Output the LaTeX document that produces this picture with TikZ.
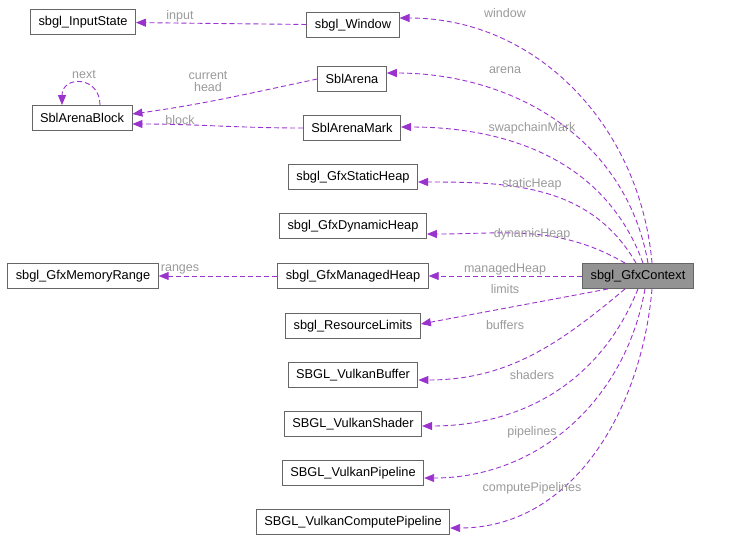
\documentclass[tikz,border=0pt]{standalone}
\usepackage{fontspec}
\setmainfont{Liberation Sans}
\usetikzlibrary{arrows.meta}
\definecolor{edgepurple}{RGB}{154,50,205}
\definecolor{labelgrey}{RGB}{154,154,154}
\definecolor{boxgrey}{RGB}{102,102,102}
\tikzset{%
    class node/.style={draw=boxgrey, fill=white, minimum height=25pt,
        inner xsep=8pt, line width=0.9pt, font=\fontsize{12.8}{14}\selectfont},
    rel/.style={draw=edgepurple, line width=0.9pt, dash pattern=on 5pt off 3pt,
        -{Triangle[length=10pt,width=8pt,fill=edgepurple]}},
    lbl/.style={text=labelgrey, font=\fontsize{12.5}{12}\selectfont, align=center}
}
\begin{document}
\begin{tikzpicture}[x=1pt,y=-1pt]
  \useasboundingbox (0,0) rectangle (730,541);

  \node[class node] (input) at (83,22) {sbgl\_InputState};
  \node[class node] (window) at (353,25) {sbgl\_Window};
  \node[class node] (arena) at (352,79) {SblArena};
  \node[class node] (block) at (82,118) {SblArenaBlock};
  \node[class node] (mark) at (352,128) {SblArenaMark};
  \node[class node] (static) at (353,177) {sbgl\_GfxStaticHeap};
  \node[class node] (dynamic) at (353,226) {sbgl\_GfxDynamicHeap};
  \node[class node] (range) at (83,276) {sbgl\_GfxMemoryRange};
  \node[class node] (managed) at (353,276) {sbgl\_GfxManagedHeap};
  \node[class node] (limits) at (353,326) {sbgl\_ResourceLimits};
  \node[class node] (buffer) at (353,375) {SBGL\_VulkanBuffer};
  \node[class node] (shader) at (353,424) {SBGL\_VulkanShader};
  \node[class node] (pipeline) at (353,473) {SBGL\_VulkanPipeline};
  \node[class node] (compute) at (353,522) {SBGL\_VulkanComputePipeline};
  \node[class node, fill=gray!85] (ctx) at (638,276) {sbgl\_GfxContext};

  % members of the context
  \draw[rel] ([xshift=14pt]ctx.north) to[out=95,in=0] ([yshift=7pt]window.east);
  \draw[rel] ([xshift=10pt]ctx.north) to[out=100,in=0] ([yshift=6pt]arena.east);
  \draw[rel] ([xshift=5pt]ctx.north) to[out=110,in=0] ([yshift=1pt]mark.east);
  \draw[rel] ([xshift=-2pt]ctx.north) to[out=120,in=0] ([yshift=-5pt]static.east);
  \draw[rel] ([xshift=-13pt]ctx.north) to[out=150,in=0] ([yshift=-8pt]dynamic.east);
  \draw[rel] (ctx) -- (managed);
  \draw[rel] ([xshift=-30pt]ctx.south) to ([yshift=2pt]limits.east);
  \draw[rel] ([xshift=-13pt]ctx.south) to[out=-140,in=0] ([yshift=-5pt]buffer.east);
  \draw[rel] ([xshift=0pt]ctx.south) to[out=-112,in=0] ([yshift=-2pt]shader.east);
  \draw[rel] ([xshift=7pt]ctx.south) to[out=-100,in=0] ([yshift=-5pt]pipeline.east);
  \draw[rel] ([xshift=14pt]ctx.south) to[out=-95,in=0] ([yshift=-6pt]compute.east);

  % other relations
  \draw[rel] (window) -- (input);
  \draw[rel] (arena.west) to[out=192,in=8] ([yshift=4pt]block.east);
  \draw[rel] (mark) to[out=180,in=0] ([yshift=-6pt]block.east);
  \draw[rel] (managed) -- (range);
  \draw[rel] ([xshift=18pt]block.north) to[out=90,in=90,looseness=2] ([xshift=-20pt]block.north);

  \node[lbl] (l1) at (505,13) {window};
  \node[lbl] (l2) at (505,70) {arena};
  \node[lbl] (l3) at (532,128) {swapchainMark};
  \node[lbl] (l4) at (532,184) {staticHeap};
  \node[lbl] (l5) at (532,234) {dynamicHeap};
  \node[lbl] (l6) at (505,269) {managedHeap};
  \node[lbl] (l7) at (505,289) {limits};
  \node[lbl] (l8) at (505,325) {buffers};
  \node[lbl] (l9) at (532,375) {shaders};
  \node[lbl] (l10) at (532,432) {pipelines};
  \node[lbl] (l11) at (532,488) {computePipelines};
  \node[lbl] (l12) at (180,16) {input};
  \node[lbl] (l13) at (208,82) {current\\head};
  \node[lbl] (l14) at (180,120) {block};
  \node[lbl] (l15) at (180,269) {ranges};
  \node[lbl] (l16) at (84,75) {next};
\end{tikzpicture}
\end{document}
